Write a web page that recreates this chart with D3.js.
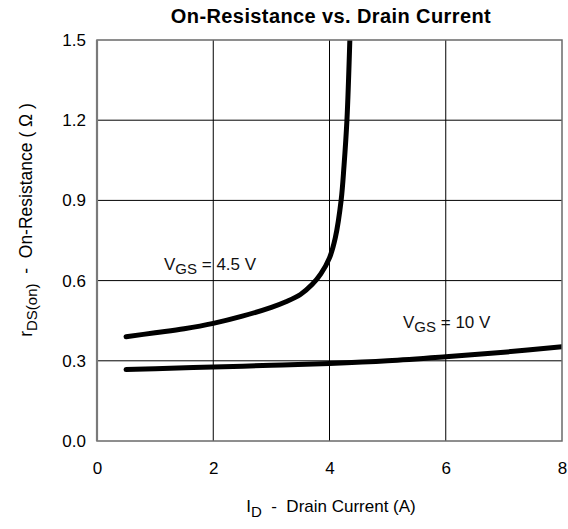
<!DOCTYPE html>
<html><head><meta charset="utf-8">
<script src="https://cdn.jsdelivr.net/npm/d3@7/dist/d3.min.js"></script>
<style>body{margin:0;background:#fff}svg{display:block;font-family:"Liberation Sans",Arial,sans-serif}text{white-space:pre}</style>
</head><body><svg id="c" width="568" height="529"></svg>
<script>
const xTicks = [0, 2, 4, 6, 8];
const yTicks = [0.0, 0.3, 0.6, 0.9, 1.2, 1.5];
const vgs45_id = [0.5, 1, 1.5, 2, 2.5, 3, 3.25, 3.5, 3.7, 3.85, 4.0, 4.1, 4.2, 4.25, 4.3, 4.35];
const vgs45_r  = [0.39, 0.405, 0.42, 0.44, 0.467, 0.5, 0.521, 0.548, 0.585, 0.625, 0.685, 0.76, 0.9, 1.03, 1.2, 1.5];
const vgs10_id = [0.5, 1, 2, 3, 4, 5, 6, 7, 8];
const vgs10_r  = [0.267, 0.27, 0.277, 0.283, 0.29, 0.3, 0.315, 0.332, 0.353];

const svg = d3.select("#c");
const L = 97, R = 562, T = 40, B = 441;
const x = d3.scaleLinear().domain([0, 8]).range([L, R]);
const y = d3.scaleLinear().domain([0, 1.5]).range([B, T]);
const FF = "Liberation Sans, Arial, sans-serif";

// grid
const g = svg.append("g");
g.selectAll(".vx").data(xTicks.slice(1, -1)).enter().append("line")
  .attr("x1", d => x(d)).attr("x2", d => x(d)).attr("y1", T).attr("y2", B)
  .attr("stroke", "#000").attr("stroke-width", 1);
g.selectAll(".hy").data(yTicks.slice(1, -1)).enter().append("line")
  .attr("y1", d => y(d)).attr("y2", d => y(d)).attr("x1", L).attr("x2", R)
  .attr("stroke", "#000").attr("stroke-width", 1);

// axes (labels only)
const xa = svg.append("g").attr("transform", `translate(0,${B})`)
  .call(d3.axisBottom(x).tickValues(xTicks).tickSize(0).tickPadding(21).tickFormat(d3.format("d")));
xa.select(".domain").remove();
xa.selectAll("text").attr("font-size", 17).attr("fill", "#000").attr("font-family", FF);
const ya = svg.append("g").attr("transform", `translate(${L},0)`)
  .call(d3.axisLeft(y).tickValues(yTicks).tickSize(0).tickPadding(11).tickFormat(d3.format(".1f")));
ya.select(".domain").remove();
ya.selectAll("text").attr("font-size", 17).attr("fill", "#000").attr("font-family", FF);

// curves
const line = d3.line().x(d => x(d[0])).y(d => y(d[1])).curve(d3.curveCatmullRom.alpha(0.5));
svg.append("clipPath").attr("id", "pc").append("rect")
  .attr("x", L).attr("y", T).attr("width", R - L).attr("height", B - T);
svg.append("path").datum(vgs45_id.map((d, i) => [d, vgs45_r[i]]))
  .attr("d", line).attr("fill", "none").attr("stroke", "#000").attr("stroke-width", 5)
  .attr("stroke-linecap", "round").attr("clip-path", "url(#pc)");
svg.append("path").datum(vgs10_id.map((d, i) => [d, vgs10_r[i]]))
  .attr("d", line).attr("fill", "none").attr("stroke", "#000").attr("stroke-width", 5)
  .attr("stroke-linecap", "round").attr("clip-path", "url(#pc)");

// frame
svg.append("rect").attr("x", L).attr("y", T).attr("width", R - L).attr("height", B - T)
  .attr("fill", "none").attr("stroke", "#6a6a6a").attr("stroke-width", 1.5);
svg.append("line").attr("x1", L).attr("x2", L).attr("y1", T).attr("y2", B)
  .attr("stroke", "#7a7a7a").attr("stroke-width", 2.2);

// labels
function vgsLabel(px, py, val) {
  const t = svg.append("text").attr("x", px).attr("y", py).attr("font-size", 17).attr("fill", "#111");
  t.append("tspan").text("V");
  t.append("tspan").attr("dy", 4).attr("font-size", 15).text("GS");
  t.append("tspan").attr("dy", -4).text(" = " + val);
}
vgsLabel(164, 270, "4.5 V");
vgsLabel(403, 328, "10 V");

svg.append("text").attr("x", 331).attr("y", 23).attr("text-anchor", "middle")
  .attr("font-size", 20).attr("font-weight", "bold").attr("fill", "#000")
  .attr("letter-spacing", 0.4)
  .text("On-Resistance vs. Drain Current");

const xt = svg.append("text").attr("x", 331).attr("y", 512).attr("text-anchor", "middle")
  .attr("font-size", 17).attr("fill", "#000");
xt.append("tspan").text("I");
xt.append("tspan").attr("dy", 5).attr("font-size", 15).text("D");
xt.append("tspan").attr("dy", -5).text("  -  Drain Current (A)");

const yt = svg.append("text").attr("transform", "translate(32,220) rotate(-90)")
  .attr("text-anchor", "middle").attr("font-size", 17.5).attr("fill", "#000");
yt.append("tspan").text("r");
yt.append("tspan").attr("dy", 5).attr("font-size", 15).text("DS(on)");
yt.append("tspan").attr("dy", -5).text("  -  On-Resistance ( Ω )");
</script></body></html>
